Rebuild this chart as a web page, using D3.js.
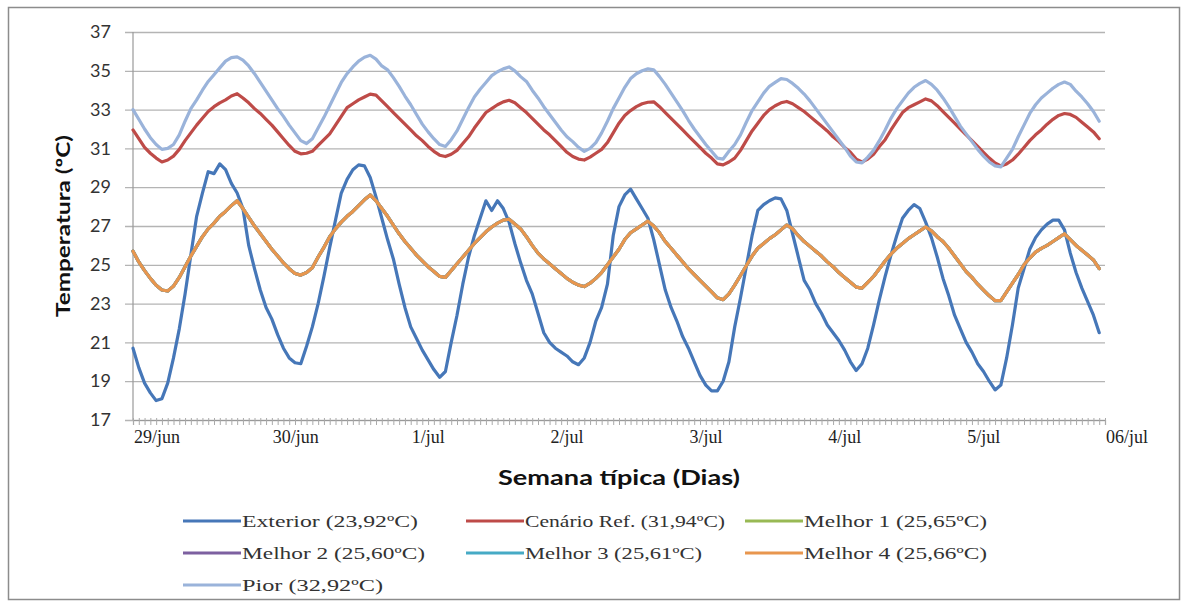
<!DOCTYPE html>
<html>
<head>
<meta charset="utf-8">
<script src="https://cdn.jsdelivr.net/npm/d3@7/dist/d3.min.js"></script>
<style>
  html, body { margin: 0; padding: 0; background: #fff; }
  svg { display: block; }
  .serif { font-family: "Liberation Serif", "DejaVu Serif", Tinos, "Times New Roman", serif; }
  .sans { font-family: Lato, "Open Sans", "Liberation Sans", sans-serif; }
</style>
</head>
<body>
<svg id="chart" width="1185" height="607"></svg>
<script>
// Hourly temperatures (ºC) over the typical week, 29/jun 00h to 05/jul 23h
const exteriorValues = [
  20.7,19.7,18.9,18.4,18.0,18.1,18.9,20.2,21.7,23.5,25.5,27.5,28.7,29.8,29.7,30.2,29.9,29.2,28.7,27.9,26.0,24.8,23.7,22.8,
  22.2,21.4,20.7,20.2,19.95,19.9,20.8,21.8,23.0,24.4,25.9,27.3,28.7,29.4,29.9,30.15,30.1,29.5,28.5,27.4,26.3,25.3,24.0,22.8,
  21.8,21.2,20.6,20.1,19.6,19.2,19.5,21.0,22.4,24.0,25.4,26.5,27.4,28.3,27.8,28.3,27.9,27.2,26.1,25.1,24.2,23.5,22.5,21.5,
  21.0,20.7,20.5,20.3,20.0,19.85,20.2,21.0,22.1,22.8,24.0,26.5,28.0,28.6,28.9,28.4,27.9,27.4,26.3,25.0,23.7,22.8,22.1,21.3,
  20.7,20.0,19.3,18.8,18.5,18.5,19.0,20.0,21.8,23.3,24.9,26.5,27.8,28.1,28.3,28.45,28.4,27.8,26.6,25.4,24.2,23.7,23.0,22.5,
  21.9,21.5,21.1,20.6,20.0,19.55,19.9,20.7,21.9,23.2,24.4,25.5,26.5,27.4,27.8,28.1,27.9,27.2,26.4,25.4,24.3,23.4,22.4,21.7,
  21.0,20.5,19.9,19.5,19.0,18.55,18.8,20.2,21.9,23.8,24.8,25.8,26.4,26.8,27.1,27.3,27.3,26.8,25.6,24.6,23.8,23.1,22.4,21.5
];
const refValues = [
  31.95,31.5,31.05,30.75,30.5,30.3,30.4,30.6,30.95,31.4,31.8,32.2,32.55,32.9,33.15,33.35,33.5,33.7,33.82,33.6,33.35,33.05,32.8,32.5,
  32.2,31.85,31.5,31.15,30.85,30.72,30.75,30.85,31.15,31.45,31.75,32.2,32.65,33.1,33.3,33.5,33.65,33.8,33.75,33.45,33.15,32.85,32.55,32.25,
  31.95,31.65,31.4,31.1,30.85,30.65,30.58,30.7,30.9,31.25,31.6,32.05,32.45,32.85,33.05,33.25,33.4,33.48,33.35,33.1,32.85,32.55,32.25,31.95,
  31.7,31.4,31.1,30.8,30.58,30.45,30.4,30.55,30.75,30.95,31.3,31.8,32.3,32.7,32.95,33.15,33.3,33.38,33.4,33.15,32.85,32.55,32.25,31.95,
  31.65,31.35,31.05,30.75,30.5,30.2,30.15,30.3,30.5,30.9,31.4,31.9,32.3,32.7,33.0,33.2,33.35,33.42,33.3,33.1,32.9,32.65,32.4,32.15,
  31.9,31.6,31.35,31.05,30.8,30.45,30.3,30.45,30.7,31.1,31.45,31.95,32.4,32.85,33.1,33.25,33.4,33.55,33.45,33.2,32.9,32.6,32.3,32.0,
  31.7,31.4,31.1,30.8,30.5,30.25,30.1,30.2,30.4,30.7,31.05,31.4,31.7,31.95,32.25,32.5,32.7,32.8,32.75,32.6,32.35,32.1,31.85,31.5
];
const melhorValues = [
  25.7,25.15,24.7,24.3,23.95,23.7,23.65,23.9,24.35,24.9,25.45,25.95,26.45,26.85,27.15,27.5,27.75,28.05,28.3,27.9,27.45,27.0,26.6,26.2,
  25.8,25.45,25.1,24.8,24.55,24.47,24.6,24.85,25.4,25.9,26.45,26.85,27.2,27.5,27.75,28.05,28.35,28.6,28.3,27.9,27.5,27.05,26.6,26.2,
  25.85,25.5,25.2,24.9,24.65,24.4,24.35,24.7,25.05,25.4,25.75,26.1,26.4,26.7,26.95,27.15,27.3,27.35,27.1,26.85,26.45,26.0,25.6,25.3,
  25.05,24.8,24.55,24.3,24.1,23.95,23.88,24.05,24.3,24.6,25.0,25.4,25.8,26.3,26.65,26.85,27.05,27.25,27.0,26.65,26.2,25.85,25.5,25.15,
  24.8,24.5,24.2,23.9,23.6,23.3,23.2,23.5,23.95,24.45,24.95,25.45,25.85,26.1,26.35,26.55,26.8,27.05,26.85,26.5,26.2,25.95,25.7,25.45,
  25.15,24.9,24.6,24.35,24.1,23.85,23.8,24.1,24.4,24.8,25.2,25.55,25.85,26.1,26.35,26.55,26.75,26.95,26.75,26.45,26.2,25.85,25.45,25.05,
  24.65,24.35,24.0,23.7,23.4,23.15,23.15,23.6,24.05,24.5,25.0,25.35,25.65,25.85,26.0,26.2,26.4,26.6,26.3,26.0,25.75,25.5,25.25,24.8
];
const piorValues = [
  33.0,32.5,32.0,31.55,31.2,30.95,31.0,31.2,31.7,32.4,33.05,33.5,34.0,34.45,34.8,35.15,35.5,35.68,35.72,35.55,35.25,34.85,34.4,33.95,
  33.5,33.05,32.65,32.2,31.8,31.4,31.25,31.5,32.05,32.6,33.2,33.8,34.4,34.85,35.2,35.5,35.7,35.8,35.6,35.25,35.05,34.65,34.2,33.7,
  33.25,32.75,32.25,31.85,31.5,31.2,31.1,31.45,31.9,32.5,33.1,33.65,34.05,34.4,34.75,34.95,35.1,35.2,35.0,34.7,34.45,34.0,33.6,33.15,
  32.75,32.35,31.95,31.6,31.35,31.05,30.85,31.0,31.3,31.8,32.4,33.05,33.6,34.15,34.6,34.85,35.0,35.1,35.05,34.7,34.3,33.85,33.4,32.95,
  32.45,32.0,31.6,31.2,30.85,30.5,30.45,30.85,31.2,31.7,32.35,32.95,33.4,33.85,34.2,34.4,34.6,34.55,34.35,34.1,33.8,33.45,33.05,32.65,
  32.25,31.85,31.45,31.05,30.6,30.3,30.25,30.55,30.9,31.4,31.95,32.55,33.05,33.45,33.85,34.15,34.35,34.5,34.3,34.0,33.6,33.15,32.65,32.15,
  31.75,31.35,30.95,30.6,30.3,30.1,30.05,30.5,30.95,31.6,32.2,32.8,33.25,33.6,33.85,34.1,34.3,34.42,34.3,33.95,33.65,33.3,32.9,32.4
];

// The four "Melhor" scenarios track each other almost exactly
const seriesNames = [
  "Exterior (23,92ºC)", "Cenário Ref. (31,94ºC)", "Melhor 1 (25,65ºC)",
  "Melhor 2 (25,60ºC)", "Melhor 3 (25,61ºC)", "Melhor 4 (25,66ºC)", "Pior (32,92ºC)"
];
const seriesValues = [exteriorValues, refValues, melhorValues, melhorValues, melhorValues, melhorValues, piorValues];
const seriesColors = ["#4677b8", "#be4b48", "#98b954", "#7d60a0", "#46aac5", "#e8964e", "#9ab3da"];

const dayLabels = ["29/jun", "30/jun", "1/jul", "2/jul", "3/jul", "4/jul", "5/jul", "06/jul"];
const yTicks = [17, 19, 21, 23, 25, 27, 29, 31, 33, 35, 37];

const svg = d3.select("#chart");
const W = 1185, H = 607;
const plot = { left: 133, right: 1105, top: 32, bottom: 420 };

svg.append("rect").attr("width", W).attr("height", H).attr("fill", "#fff");
// chart frame
svg.append("rect")
  .attr("x", 8.5).attr("y", 7.5).attr("width", 1171).attr("height", 592)
  .attr("fill", "none").attr("stroke", "#8c8c8c").attr("stroke-width", 1.5);

const x = d3.scaleLinear().domain([0, 168]).range([plot.left, plot.right]);
const y = d3.scaleLinear().domain([17, 37]).range([plot.bottom, plot.top]);

// horizontal gridlines with outside ticks
const yAxis = d3.axisLeft(y).tickValues(yTicks).tickSize(-(plot.right - plot.left)).tickPadding(22)
  .tickFormat(d3.format("d"));
const gy = svg.append("g").attr("transform", `translate(${plot.left},0)`).call(yAxis);
gy.select(".domain").remove();
gy.selectAll(".tick line")
  .attr("x1", -8)
  .attr("stroke", "#b4b4b4").attr("stroke-width", 1.3);
gy.selectAll(".tick text")
  .attr("class", "sans")
  .attr("font-size", 18).attr("fill", "#333");

// y axis line
svg.append("line")
  .attr("x1", plot.left).attr("x2", plot.left)
  .attr("y1", plot.top).attr("y2", plot.bottom)
  .attr("stroke", "#999").attr("stroke-width", 1.2);

// x axis: hourly minor ticks, day labels
const xAxis = d3.axisBottom(x).tickValues(d3.range(0, 169)).tickSize(5).tickFormat("");
const gx = svg.append("g").attr("transform", `translate(0,${plot.bottom})`).call(xAxis);
gx.select(".domain").attr("stroke", "#999").attr("stroke-width", 1.2);
gx.selectAll(".tick line").attr("stroke", "#aaa").attr("stroke-width", 1).attr("y1", -2);

svg.append("g").selectAll("text").data(dayLabels).join("text")
  .attr("class", "serif")
  .attr("x", (d, i) => x(i * 24) + 1)
  .attr("y", 443)
  .attr("font-size", 18).attr("fill", "#222")
  .text(d => d);

// axis titles
svg.append("text")
  .attr("class", "sans")
  .attr("x", 619).attr("y", 485)
  .attr("text-anchor", "middle")
  .attr("font-weight", "bold").attr("font-size", 20).attr("fill", "#111")
  .attr("textLength", 242).attr("lengthAdjust", "spacingAndGlyphs")
  .text("Semana típica (Dias)");
svg.append("text")
  .attr("class", "sans")
  .attr("transform", "translate(70,226) rotate(-90)")
  .attr("text-anchor", "middle")
  .attr("font-weight", "bold").attr("font-size", 18.5).attr("fill", "#111")
  .attr("textLength", 182).attr("lengthAdjust", "spacingAndGlyphs")
  .text("Temperatura (ºC)");

// series lines
const line = d3.line().x((d, i) => x(i)).y(d => y(d)).curve(d3.curveLinear);
svg.append("g").selectAll("path").data(seriesValues).join("path")
  .attr("d", d => line(d))
  .attr("fill", "none")
  .attr("stroke", (d, i) => seriesColors[i])
  .attr("stroke-width", 3.2)
  .attr("stroke-linejoin", "round")
  .attr("stroke-linecap", "round");

// legend
const legendCols = [183, 466, 745];
const legendRows = [521, 553, 585];
const legendWidths = [176, 200, 183, 183, 177, 183, 141];
const legend = svg.append("g").selectAll("g").data(seriesNames).join("g")
  .attr("transform", (d, i) => `translate(${legendCols[i % 3]},${legendRows[Math.floor(i / 3)]})`);
legend.append("line")
  .attr("x1", 0).attr("x2", 58).attr("y1", 0).attr("y2", 0)
  .attr("stroke", (d, i) => seriesColors[i]).attr("stroke-width", 3.2);
legend.append("text")
  .attr("class", "serif")
  .attr("x", 59).attr("y", 5.5)
  .attr("font-size", 16.5).attr("fill", "#333")
  .attr("textLength", (d, i) => legendWidths[i]).attr("lengthAdjust", "spacingAndGlyphs")
  .text(d => d);
</script>
</body>
</html>
